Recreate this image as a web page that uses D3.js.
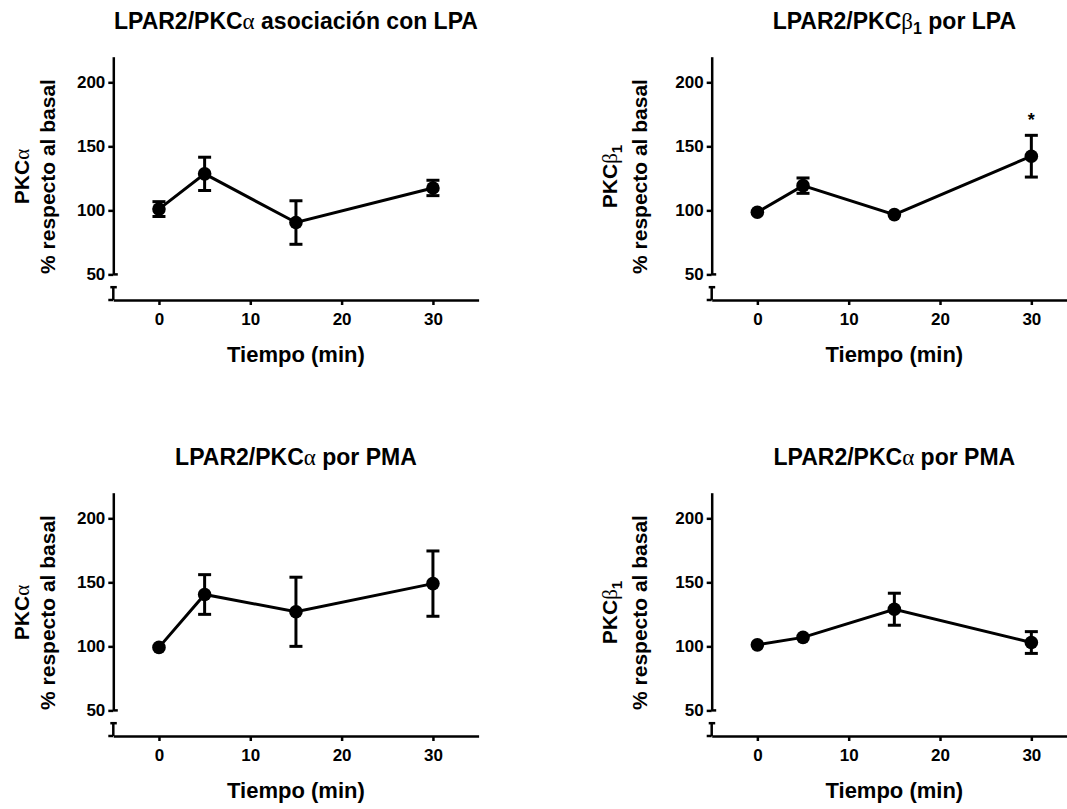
<!DOCTYPE html>
<html lang="es">
<head>
<meta charset="utf-8">
<title>LPAR2 / PKC</title>
<style>
  body { margin: 0; background: #fff; }
  svg { display: block; font-family: "Liberation Sans", Arial, sans-serif; font-weight: bold; }
  .axis path, .axis line { stroke: #000; stroke-width: 2.5; fill: none; }
  .title { font-size: 23px; text-anchor: middle; }
  .label { font-size: 21px; text-anchor: middle; }
  .xlabel { font-size: 22px; text-anchor: middle; }
  .greek { font-family: "Liberation Serif", serif; font-weight: normal; }
</style>
</head>
<body>
<svg id="chart" width="1067" height="809"></svg>
<script src="https://d3js.org/d3.v7.min.js"></script>
<script>
// tiempos y ejes
const times = [0, 5, 15, 30];
const xTicks = [0, 10, 20, 30];
const yTicks = [50, 100, 150, 200];

// LPAR2/PKCalfa con LPA
const lpaAlphaMean = [101, 128.5, 90.5, 117.5];
const lpaAlphaSem = [5.8, 13, 17, 6];
// LPAR2/PKCbeta1 con LPA
const lpaBetaMean = [98.5, 119.3, 96.7, 142.3];
const lpaBetaSem = [1, 6, 1, 16.3];
const lpaBetaStar = [false, false, false, true];
// LPAR2/PKCalfa con PMA
const pmaAlphaMean = [99.2, 140.5, 127, 149];
const pmaAlphaSem = [1, 15.5, 27, 25.5];
// LPAR2/PKCbeta1 con PMA
const pmaBetaMean = [101.2, 107, 129, 103];
const pmaBetaSem = [1, 1, 12.5, 8.5];

const noStar = [false, false, false, false];

// title / label pieces: [text, kind]
const titleLpaAlpha = [["LPAR2/PKC"], ["α", "greek"], [" asociación con LPA"]];
const titleLpaBeta = [["LPAR2/PKC"], ["β", "greek"], ["1", "sub"], [" por LPA"]];
const titlePma = [["LPAR2/PKC"], ["α", "greek"], [" por PMA"]];
const ylabAlpha = [["PKC"], ["α", "greek"]];
const ylabBeta = [["PKC"], ["β", "greek"], ["1", "sub"]];

const panels = [
  { title: titleLpaAlpha, ylab: ylabAlpha, mean: lpaAlphaMean, sem: lpaAlphaSem, star: noStar, ox: 0, oy: 0, l1: -84.5, l2: -58.5 },
  { title: titleLpaBeta, ylab: ylabBeta, mean: lpaBetaMean, sem: lpaBetaSem, star: lpaBetaStar, ox: 598.4, oy: 0, l1: -95, l2: -65 },
  { title: titlePma, ylab: ylabAlpha, mean: pmaAlphaMean, sem: pmaAlphaSem, star: noStar, ox: 0, oy: 436, l1: -84.5, l2: -58.5 },
  { title: titlePma, ylab: ylabBeta, mean: pmaBetaMean, sem: pmaBetaSem, star: noStar, ox: 598.4, oy: 436, l1: -95, l2: -65 }
];

const svg = d3.select("#chart");
svg.append("rect").attr("width", 1067).attr("height", 809).attr("fill", "#fff");

function addPieces(text, pieces, subSize) {
  let shift = 0;
  pieces.forEach(p => {
    const ts = text.append("tspan").text(p[0]);
    if (p[1] === "greek") ts.attr("class", "greek");
    if (p[1] === "sub") {
      ts.attr("dy", 5).style("font-size", subSize + "px");
      shift = -5;
    } else if (shift) {
      ts.attr("dy", shift);
      shift = 0;
    }
  });
}

function styleTicks(sel) {
  sel.selectAll("text")
    .style("font-family", "'Liberation Sans', Arial, sans-serif")
    .style("font-size", "17px")
    .style("font-weight", "bold")
    .attr("fill", "#000");
}

panels.forEach(p => {
  const left = p.ox + 113.3;
  const x = d3.scaleLinear().domain([-5, 35]).range([left, left + 365.3]);
  const y = d3.scaleLinear().domain([30, 220]).range([p.oy + 300, p.oy + 56.7]);
  const g = svg.append("g");

  // eje Y (segmento superior)
  const ySeg = y.copy().domain([50, 220]).range([y(50), y(220)]);
  g.append("g")
    .attr("class", "axis")
    .attr("transform", "translate(" + left + ",0)")
    .call(d3.axisLeft(ySeg).tickValues(yTicks).tickSize(5).tickSizeOuter(0).tickPadding(3))
    .call(styleTicks);
  // tapa del corte
  g.append("line").attr("class", "brk")
    .attr("x1", left).attr("x2", left + 4.5)
    .attr("y1", y(50)).attr("y2", y(50));
  // segmento inferior
  g.append("line").attr("class", "brk")
    .attr("x1", left).attr("x2", left)
    .attr("y1", y(30)).attr("y2", y(40));
  g.append("line").attr("class", "brk")
    .attr("x1", left - 3).attr("x2", left + 3.5)
    .attr("y1", y(40)).attr("y2", y(40));
  g.selectAll(".brk").attr("stroke", "#000").attr("stroke-width", 2.5);

  // eje X
  g.append("g")
    .attr("class", "axis")
    .attr("transform", "translate(0," + y(30) + ")")
    .call(d3.axisBottom(x).tickValues(xTicks).tickSize(5).tickSizeOuter(0).tickPadding(8))
    .call(styleTicks);
  g.append("line")
    .attr("x1", left - 5).attr("x2", left)
    .attr("y1", y(30)).attr("y2", y(30))
    .attr("stroke", "#000").attr("stroke-width", 2.5);

  // títulos
  const t = g.append("text").attr("class", "title")
    .attr("x", (x(-5) + x(35)) / 2).attr("y", p.oy + 29);
  addPieces(t, p.title, 16);

  g.append("text").attr("class", "xlabel")
    .attr("x", (x(-5) + x(35)) / 2).attr("y", p.oy + 362)
    .text("Tiempo (min)");

  const cy = p.oy + 176.5;
  const yl1 = g.append("text").attr("class", "label")
    .attr("transform", "translate(" + (left + p.l1) + "," + cy + ") rotate(-90)");
  addPieces(yl1, p.ylab, 15);
  g.append("text").attr("class", "label")
    .attr("transform", "translate(" + (left + p.l2) + "," + cy + ") rotate(-90)")
    .text("% respecto al basal");

  // datos
  const pts = times.map((tm, i) => ({ t: tm, m: p.mean[i], s: p.sem[i], star: p.star[i] }));
  const r = 6.8;

  g.append("path")
    .datum(pts)
    .attr("fill", "none").attr("stroke", "#000").attr("stroke-width", 3)
    .attr("d", d3.line().x(d => x(d.t)).y(d => y(d.m)));

  const eb = g.selectAll(".eb").data(pts.filter(d => y(d.m - d.s) - y(d.m) > r))
    .enter().append("g").attr("class", "eb")
    .attr("stroke", "#000").attr("stroke-width", 3);
  eb.append("line")
    .attr("x1", d => x(d.t)).attr("x2", d => x(d.t))
    .attr("y1", d => y(d.m + d.s)).attr("y2", d => y(d.m - d.s));
  eb.append("line")
    .attr("x1", d => x(d.t) - 6.5).attr("x2", d => x(d.t) + 6.5)
    .attr("y1", d => y(d.m + d.s)).attr("y2", d => y(d.m + d.s));
  eb.append("line")
    .attr("x1", d => x(d.t) - 6.5).attr("x2", d => x(d.t) + 6.5)
    .attr("y1", d => y(d.m - d.s)).attr("y2", d => y(d.m - d.s));

  g.selectAll(".dot").data(pts)
    .enter().append("circle").attr("class", "dot")
    .attr("cx", d => x(d.t)).attr("cy", d => y(d.m)).attr("r", r)
    .attr("fill", "#000");

  g.selectAll(".star").data(pts.filter(d => d.star))
    .enter().append("text").attr("class", "star")
    .attr("x", d => x(d.t)).attr("y", d => y(d.m + d.s) - 9)
    .attr("text-anchor", "middle").style("font-size", "18px")
    .text("*");
});
</script>
</body>
</html>
